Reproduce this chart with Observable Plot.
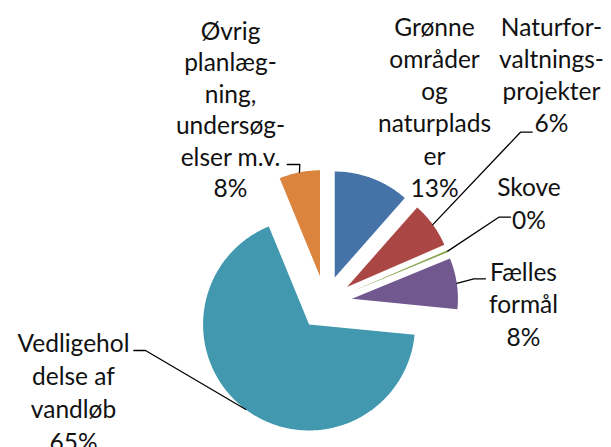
<!DOCTYPE html>
<html><head><meta charset="utf-8">
<script src="https://cdn.jsdelivr.net/npm/d3@7"></script>
<script src="https://cdn.jsdelivr.net/npm/@observablehq/plot@0.6"></script>
<style>html,body{margin:0;padding:0;background:#fff} #chart svg{display:block}</style>
</head><body><div id="chart"></div>
<script>
// ---- data ----
const categories = ["Grønne områder og naturpladser","Naturforvaltningsprojekter","Skove","Fælles formål","Vedligeholdelse af vandløb","Øvrig planlægning, undersøgelser m.v."];
const values = [11.5, 7.0, 0.3, 7.75, 67.25, 6.2];   // slice sizes as drawn
const labelTexts = ["Grønne\nområder\nog\nnaturplads\ner", "Naturfor-\nvaltnings-\nprojekter", "Skove", "Fælles\nformål", "Vedligehol\ndelse af\nvandløb", "Øvrig\nplanlæg-\nning,\nundersøg-\nelser m.v."];
const pctLabels = ["13%","6%","0%","8%","65%","8%"];
const colors = ["#4572A7","#AA4643","#89A54E","#71588F","#4198AF","#DB843D"];

// ---- layout ----
const W = 611, H = 447;
const center = [324.7, 302.3], R = 106, explode = 27;
const labelLayout = [
  {x: 434,   y: 35,  lh: 32.3},
  {x: 551,   y: 35,  lh: 32.3},
  {x: 528.5, y: 195, lh: 33},
  {x: 523,   y: 280, lh: 32.5},
  {x: 73,    y: 351, lh: 33},
  {x: 230,   y: 39,  lh: 31.5}
];
const leaderLayout = [null, [[531.7,131.7],[520,131.7]], [[510,216.7],[498.3,216.7]], [[485,278.3],[473.3,278.3]], [[133.3,350],[145,350]], [[286.7,164],[299.3,164]]];

// ---- geometry from data ----
const arcs = d3.pie().sort(null).value(d => d)(values);
const slicePts = [], leaderPts = [], textPts = [];
arcs.forEach((a, i) => {
  const mid = (a.startAngle + a.endAngle) / 2;
  const ax = center[0] + explode * Math.sin(mid), ay = center[1] - explode * Math.cos(mid);
  slicePts.push({cat: categories[i], x: ax, y: ay});
  const n = Math.max(2, Math.ceil((a.endAngle - a.startAngle) / (Math.PI / 360)));
  for (let k = 0; k <= n; k++) {
    const t = a.startAngle + (a.endAngle - a.startAngle) * k / n;
    slicePts.push({cat: categories[i], x: ax + R * Math.sin(t), y: ay - R * Math.cos(t)});
  }
  const L = leaderLayout[i];
  if (L) {
    L.forEach(p => leaderPts.push({id: i, x: p[0], y: p[1]}));
    leaderPts.push({id: i, x: ax + R * Math.sin(mid), y: ay - R * Math.cos(mid)});
  }
  const lines = (labelTexts[i] + "\n" + pctLabels[i]).split("\n");
  const lay = labelLayout[i];
  lines.forEach((t, j) => textPts.push({t, x: lay.x, y: lay.y + j * lay.lh}));
});

const chart = Plot.plot({
  width: W, height: H, margin: 0,
  style: {background: "#fff"},
  x: {domain: [0, W], range: [0, W], axis: null},
  y: {domain: [0, H], range: [0, H], axis: null},
  color: {domain: categories, range: colors},
  marks: [
    Plot.line(slicePts, {x: "x", y: "y", z: "cat", fill: "cat", stroke: "none", curve: "linear-closed"}),
    Plot.line(leaderPts, {x: "x", y: "y", z: "id", stroke: "#000", strokeWidth: 1.3}),
    Plot.text(textPts, {x: "x", y: "y", text: "t", lineAnchor: "bottom", fontSize: 24.5, fontFamily: "Lato", fill: "#111"})
  ]
});
document.getElementById("chart").appendChild(chart);
</script>
</body></html>
